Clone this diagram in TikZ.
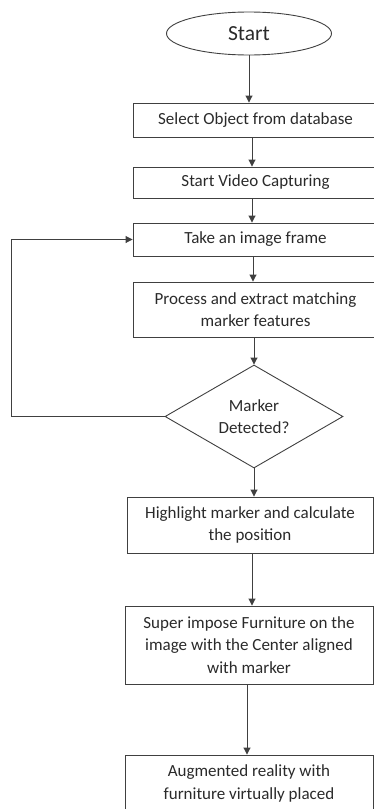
\documentclass[tikz,border=0pt]{standalone}
\usepackage{fontspec}
\setmainfont{Carlito}
\usetikzlibrary{shapes.geometric,arrows.meta}
\definecolor{ln}{HTML}{404040}
\definecolor{tx}{HTML}{2A2A2A}
\begin{document}
\begin{tikzpicture}[x=1pt,y=-1pt,
  every node/.style={text=tx,font=\fontsize{17}{22.5}\selectfont},
  procbox/.style={draw=ln,line width=0.9pt,rectangle,inner sep=0pt,align=center},
  decbox/.style={draw=ln,line width=0.9pt,diamond,aspect=1.7,inner sep=0pt,align=center,minimum width=178pt,minimum height=103pt},
  startbox/.style={draw=ln,line width=0.9pt,ellipse,inner sep=0pt,minimum width=165pt,minimum height=43pt,font=\fontsize{21.5}{26}\selectfont},
  arr/.style={draw=ln,line width=0.9pt,-{Triangle[length=7pt,width=7pt]}}]
\useasboundingbox (0,0) rectangle (374,809);
\clip (0,0) rectangle (374,809);
\node[startbox] (s) at (249,33.5) {Start};
\node[procbox,minimum width=245pt,minimum height=34pt] (b1) at (255.5,120) {Select Object from database};
\node[procbox,minimum width=245pt,minimum height=31pt] (b2) at (255.5,182.5) {Start Video Capturing};
\node[procbox,minimum width=245pt,minimum height=33pt] (b3) at (255.5,239.5) {Take an image frame};
\node[procbox,minimum width=245pt,minimum height=55pt] (b4) at (255.5,309.5) {Process and extract matching\\marker features};
\node[decbox] (d) at (254,416.5) {Marker\\Detected?};
\node[procbox,minimum width=246pt,minimum height=56pt] (b5) at (250,525) {Highlight marker and calculate\\the position};
\node[procbox,minimum width=248pt,minimum height=78pt] (b6) at (249,645) {Super impose Furniture on the\\image with the Center aligned\\with marker};
\node[procbox,minimum width=248pt,minimum height=90pt] (b7) at (249,800) {};
\node (t7) at (249,783.5) [align=center] {Augmented reality with\\furniture virtually placed};
\coordinate (c1) at (252,0);
\coordinate (c2) at (253,0);
\coordinate (c3) at (252,0);
\coordinate (c4) at (247,0);
\draw[arr] (s.south) -- (s.south |- b1.north);
\draw[arr] (b1.south -| c1) -- (b2.north -| c1);
\draw[arr] (b2.south -| c1) -- (b3.north -| c1);
\draw[arr] (b3.south -| c2) -- (b4.north -| c2);
\draw[arr] (b4.south -| d.north) -- (d.north);
\draw[arr] (d.south) -- (d.south |- b5.north);
\draw[arr] (b5.south -| c3) -- (b6.north -| c3);
\draw[arr] (b6.south -| c4) -- (b7.north -| c4);
\draw[arr] (d.west) -- ++(-153,0) |- (b3.west);
\end{tikzpicture}
\end{document}
